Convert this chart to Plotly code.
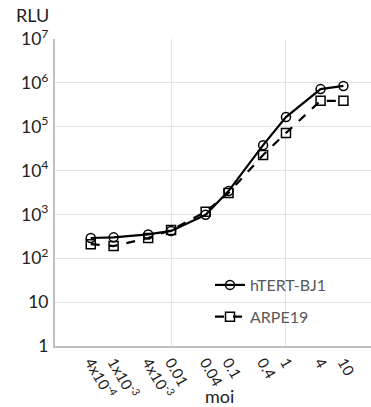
import plotly.graph_objects as go

moi = [0.0004, 0.001, 0.004, 0.01, 0.04, 0.1, 0.4, 1, 4, 10]
moi_labels = ["4x10<sup>-4</sup>", "1x10<sup>-3</sup>", "4x10<sup>-3</sup>", "0.01", "0.04",
              "0.1", "0.4", "1", "4", "10"]
htert_bj1 = [290, 300, 350, 420, 980, 3400, 38000, 166000, 720000, 850000]
arpe19 = [210, 190, 290, 440, 1150, 3100, 22600, 72000, 390000, 390000]

FONT = "Lato"
fig = go.Figure()
fig.add_trace(go.Scatter(
    x=moi, y=htert_bj1, name="hTERT-BJ1", mode="lines+markers", legendgroup="a",
    line=dict(color="black", width=2.2),
    marker=dict(symbol="circle-open", size=9, color="black", line=dict(width=1.5)),
))
fig.add_trace(go.Scatter(
    x=moi, y=arpe19, name="ARPE19", mode="lines+markers", legendgroup="b",
    line=dict(color="black", width=2.2, dash="dash"),
    marker=dict(symbol="square-open", size=9, color="black", line=dict(width=1.5)),
))

L, R, T, B = 55, 0, 39, 61
W, H = 371, 407
pw, ph = W - L - R, H - T - B

fig.update_layout(
    width=W, height=H,
    margin=dict(l=L, r=R, t=T, b=B, autoexpand=False),
    paper_bgcolor="white", plot_bgcolor="white",
    font=dict(family=FONT, color="#222222", size=14),
    showlegend=True,
    legend=dict(x=(210 - L) / pw, y=(H - B - 301) / ph, xanchor="left", yanchor="middle",
                font=dict(family=FONT, size=16, color="#595959"), bgcolor="rgba(0,0,0,0)",
                traceorder="grouped", itemwidth=30, tracegroupgap=8),
    xaxis=dict(type="log", range=[-4.02, 1.48], tickmode="array",
               tickvals=moi, ticktext=moi_labels, tickangle=60, automargin=False,
               showgrid=False, showline=True, linecolor="#bfbfbf", linewidth=1.5,
               ticks="", zeroline=False,
               tickfont=dict(family=FONT, size=15, color="#222222"),
               minor=dict(tickmode="array", tickvals=[0.01, 1], showgrid=True,
                          gridcolor="#e3e3e3", gridwidth=1.2, ticks="")),
    yaxis=dict(type="log", range=[0, 7], dtick=1, exponentformat="power", automargin=False,
               showgrid=True, gridcolor="#e3e3e3", gridwidth=1.2,
               showline=True, linecolor="#bfbfbf", linewidth=1.5,
               ticks="", zeroline=False, ticklabelstandoff=2,
               tickfont=dict(family=FONT, size=14, color="#222222")),
    annotations=[
        dict(text="RLU", x=(32 - L) / pw, y=(H - B - 15) / ph, xref="paper", yref="paper",
             showarrow=False, xanchor="center", yanchor="middle",
             font=dict(family=FONT, size=18, color="#222222")),
        dict(text="moi", x=(219 - L) / pw, y=(H - B - 396) / ph, xref="paper", yref="paper",
             showarrow=False, xanchor="center", yanchor="middle",
             font=dict(family=FONT, size=18, color="#222222")),
    ],
)

fig.write_html("out.html", config={"displayModeBar": False},
               post_script="document.body.style.margin='0';document.body.style.overflow='hidden';")
